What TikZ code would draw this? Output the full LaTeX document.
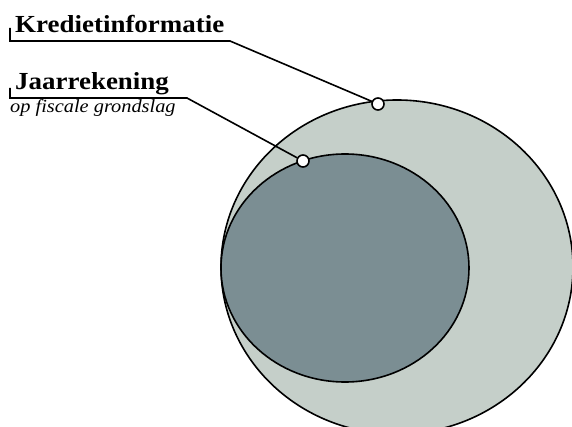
\documentclass[tikz,border=0pt]{standalone}
\usepackage{fontspec}
\setmainfont{Liberation Serif}
\usetikzlibrary{positioning,calc,shapes.geometric}
\definecolor{outerfill}{RGB}{197,207,201}
\definecolor{innerfill}{RGB}{123,142,147}
\newcommand{\widetext}[1]{\scalebox{1.1}[1]{#1}}
\tikzset{
    set/.style = {
        draw,
        shape=ellipse,
        inner sep=0pt,
        line width=1.6pt
    },
    dot/.style = {
        draw,
        shape=circle,
        fill=white,
        minimum size=12pt,
        inner sep=0pt,
        line width=1.6pt
    },
    title/.style = {
        font=\fontsize{24.5}{26}\selectfont\bfseries,
        anchor=base west,
        inner sep=0pt
    },
    sub/.style = {
        font=\fontsize{18.5}{20}\selectfont\itshape,
        anchor=base west,
        inner sep=0pt
    },
    leader/.style = {
        line width=1.6pt
    },
}
\begin{document}
\begin{tikzpicture}[x=1pt,y=-1pt]
    \useasboundingbox (0,0) rectangle (572,427);
    \clip (0,0) rectangle (572,427);
    % sets
    \node[set, fill=outerfill, minimum width=352pt, minimum height=334pt] (outer) at (397,267) {};
    \node[set, fill=innerfill, minimum width=248pt, minimum height=228pt] (inner) at (345,268) {};
    \node[dot] (kdot) at (378,104) {};
    \node[dot] (jdot) at (303,161) {};
    % labels
    \node[title] (kred) at (15,33) {\widetext{Kredietinformatie}};
    \node[title] (jaar) at (15,90) {\widetext{Jaarrekening}};
    \node[sub] (fisc) at (10,113) {\widetext{op fiscale grondslag}};
    \coordinate (ktick) at ($(kred.base west)+(-5,-5)$);
    \coordinate (kfoot) at ($(kred.base west)+(-5,8)$);
    \coordinate (kbend) at (230,41);
    \coordinate (jtick) at ($(jaar.base west)+(-5,-2)$);
    \coordinate (jfoot) at ($(jaar.base west)+(-5,8)$);
    \coordinate (jbend) at (187,98);
    % leaders
    \draw[leader] (ktick) -- (kfoot) -- (kbend) -- (kdot);
    \draw[leader] (jtick) -- (jfoot) -- (jbend) -- (jdot);
\end{tikzpicture}
\end{document}
